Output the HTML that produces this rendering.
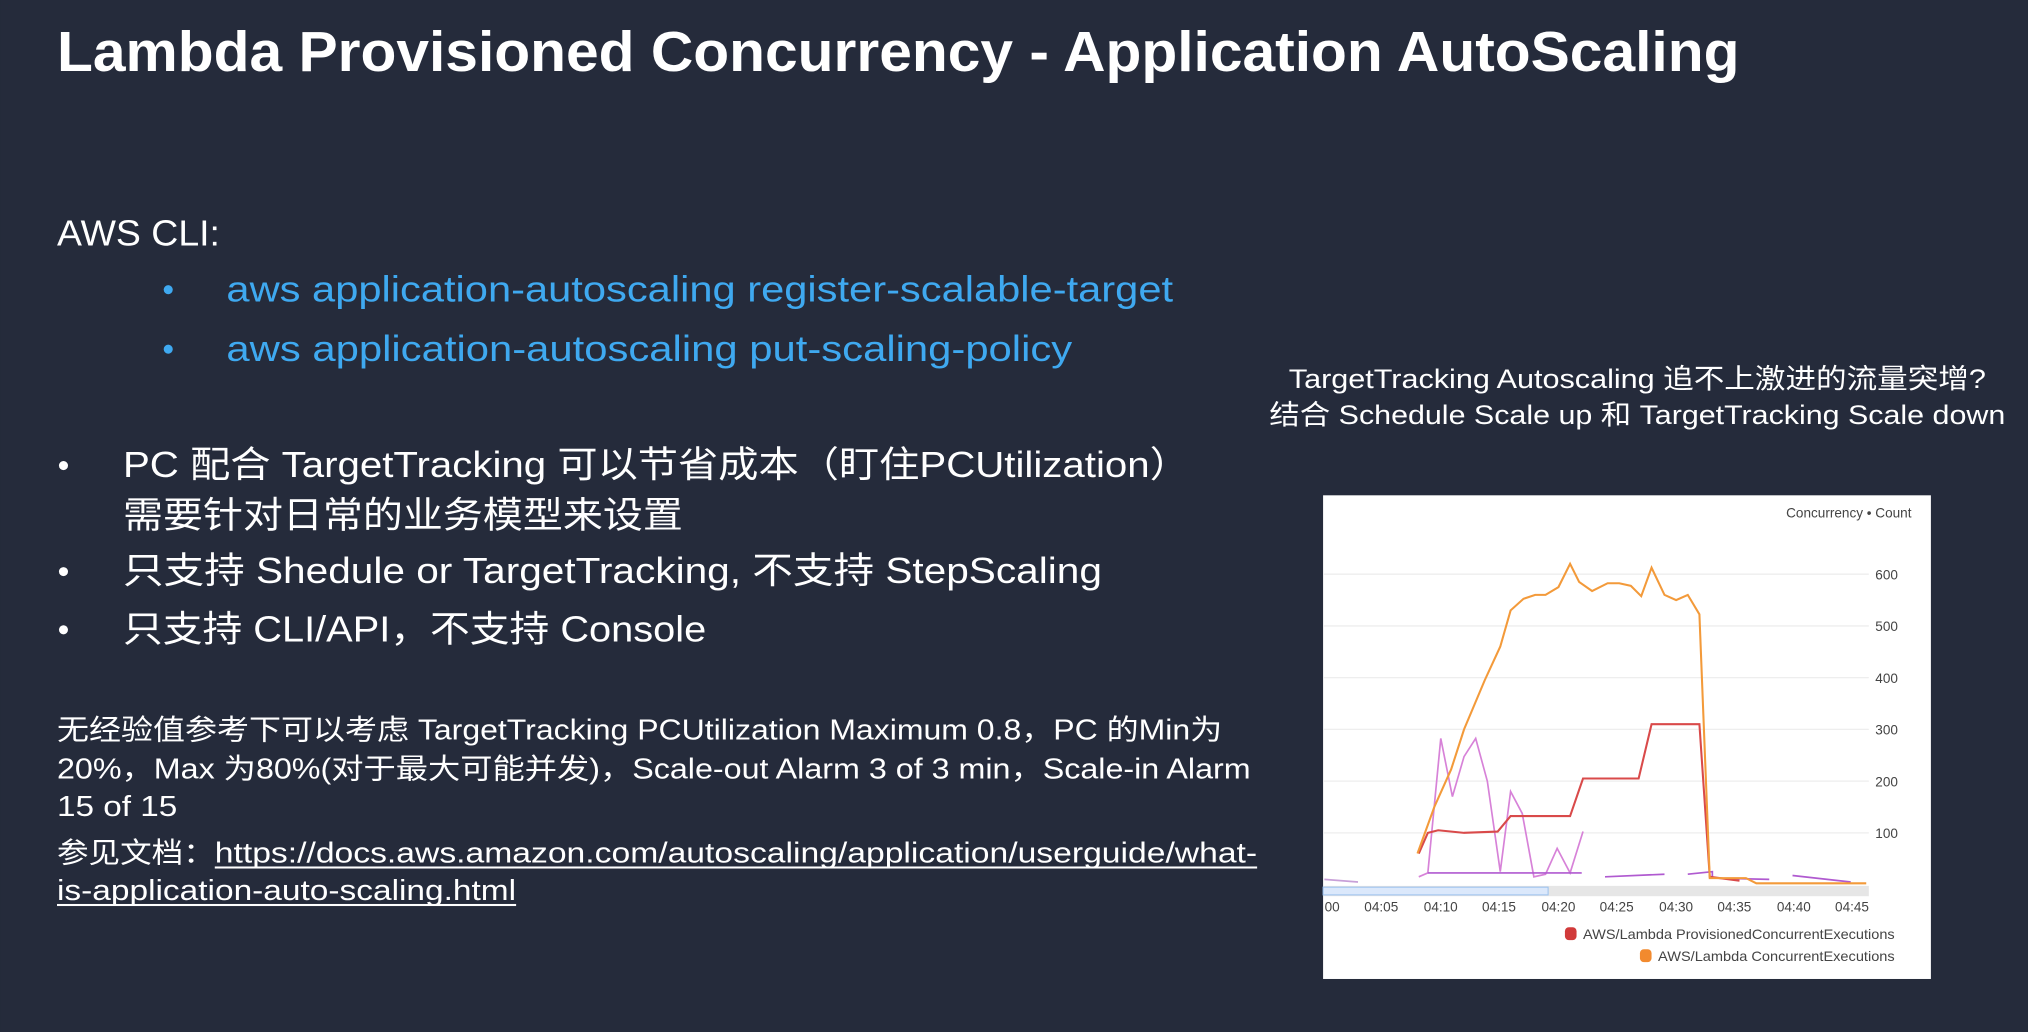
<!DOCTYPE html>
<html><head><meta charset="utf-8"><style>
html,body{margin:0;padding:0;background:#252b3b;}
svg{display:block}
text{font-family:"Liberation Sans","Noto Sans CJK SC",sans-serif;}
</style></head><body>
<svg width="2028" height="1032" viewBox="0 0 1568 798" xmlns="http://www.w3.org/2000/svg">
<rect width="1568" height="798" fill="#252b3b"/>
<text x="44" y="55" font-size="44" font-weight="bold" fill="#fff" textLength="1301" lengthAdjust="spacingAndGlyphs">Lambda Provisioned Concurrency - Application AutoScaling</text>
<text x="44" y="190" font-size="28" fill="#fff" textLength="126" lengthAdjust="spacingAndGlyphs">AWS CLI:</text>
<g fill="#3fa9f0" font-size="28">
<circle cx="130" cy="224" r="3.5"/><circle cx="130" cy="270" r="3.5"/>
<text x="175" y="233" textLength="732" lengthAdjust="spacingAndGlyphs">aws application-autoscaling register-scalable-target</text>
<text x="175" y="279" textLength="654" lengthAdjust="spacingAndGlyphs">aws application-autoscaling put-scaling-policy</text>
</g>
<g fill="#fff" font-size="28">
<circle cx="49" cy="360" r="3.5"/><circle cx="49" cy="442" r="3.5"/><circle cx="49" cy="487" r="3.5"/>
<text x="95" y="369" textLength="825" lengthAdjust="spacingAndGlyphs">PC 配合 TargetTracking 可以节省成本（盯住PCUtilization）</text>
<text x="95" y="408" textLength="433" lengthAdjust="spacingAndGlyphs">需要针对日常的业务模型来设置</text>
<text x="95" y="451" textLength="757" lengthAdjust="spacingAndGlyphs">只支持 Shedule or TargetTracking, 不支持 StepScaling</text>
<text x="95" y="496" textLength="451" lengthAdjust="spacingAndGlyphs">只支持 CLI/API，不支持 Console</text>
</g>
<g fill="#fff" font-size="22">
<text x="44" y="572" textLength="901" lengthAdjust="spacingAndGlyphs">无经验值参考下可以考虑 TargetTracking PCUtilization Maximum 0.8，PC 的Min为</text>
<text x="44" y="602" textLength="923" lengthAdjust="spacingAndGlyphs">20%，Max 为80%(对于最大可能并发)，Scale-out Alarm 3 of 3 min，Scale-in Alarm</text>
<text x="44" y="631" textLength="93" lengthAdjust="spacingAndGlyphs">15 of 15</text>
<text x="44" y="667" textLength="122" lengthAdjust="spacingAndGlyphs">参见文档：</text>
<text x="166" y="667" textLength="806" lengthAdjust="spacingAndGlyphs">https://docs.aws.amazon.com/autoscaling/application/userguide/what-</text>
<text x="44" y="696" textLength="355" lengthAdjust="spacingAndGlyphs">is-application-auto-scaling.html</text>
<rect x="166" y="670" width="806" height="1.6"/>
<rect x="44" y="699" width="355" height="1.6"/>
</g>
<g fill="#fff" font-size="21" text-anchor="middle">
<text x="1266" y="300" textLength="539" lengthAdjust="spacingAndGlyphs">TargetTracking Autoscaling 追不上激进的流量突增?</text>
<text x="1266" y="328" textLength="569" lengthAdjust="spacingAndGlyphs">结合 Schedule Scale up 和 TargetTracking Scale down</text>
</g>
<rect x="1023" y="383" width="470" height="374" fill="#fff"/>
<g stroke="#eeeeee" stroke-width="1">
<line x1="1023" y1="444" x2="1445" y2="444"/><line x1="1023" y1="484" x2="1445" y2="484"/>
<line x1="1023" y1="524" x2="1445" y2="524"/><line x1="1023" y1="564" x2="1445" y2="564"/>
<line x1="1023" y1="604" x2="1445" y2="604"/><line x1="1023" y1="644" x2="1445" y2="644"/>
</g>
<rect x="1023" y="685" width="422" height="8" fill="#e6e6e6"/>
<rect x="1023" y="686" width="174" height="6" fill="#dbe8fb" stroke="#9cc2ee" stroke-width="0.8"/>
<g fill="#444" font-size="10.5">
<text x="1478" y="400" text-anchor="end">Concurrency • Count</text>
<text x="1450" y="448">600</text><text x="1450" y="488">500</text><text x="1450" y="528">400</text>
<text x="1450" y="568">300</text><text x="1450" y="608">200</text><text x="1450" y="648">100</text>
<g text-anchor="middle">
<text x="1030" y="705">00</text><text x="1068" y="705">04:05</text><text x="1114" y="705">04:10</text>
<text x="1159" y="705">04:15</text><text x="1205" y="705">04:20</text><text x="1250" y="705">04:25</text>
<text x="1296" y="705">04:30</text><text x="1341" y="705">04:35</text><text x="1387" y="705">04:40</text>
<text x="1432" y="705">04:45</text></g>
<text x="1224" y="726" textLength="241" lengthAdjust="spacingAndGlyphs">AWS/Lambda ProvisionedConcurrentExecutions</text>
<text x="1282" y="743" textLength="183" lengthAdjust="spacingAndGlyphs">AWS/Lambda ConcurrentExecutions</text>
</g>
<rect x="1210" y="717" width="9" height="10" rx="3" fill="#d13a3a"/>
<rect x="1268" y="734" width="9" height="10" rx="3" fill="#f28a2e"/>
<g fill="none" stroke-width="1.3">
<polyline stroke="#d782d8" points="1097,678 1104,675 1114,571 1123,616 1132,585 1141,571 1150,604 1160,674 1168,612 1177,629 1186,678 1195,676 1204,656 1214,675 1224,643"/>
<polyline stroke="#b05ad0" points="1104,675 1223,675"/>
<polyline stroke="#b05ad0" points="1241,678 1287,676"/>
<polyline stroke="#b05ad0" points="1305,676 1324,674 1324,679 1368,680"/>
<polyline stroke="#b05ad0" points="1386,677 1431,682"/>
<polyline stroke="#c8a0d8" points="1024,680 1050,682"/>
<polyline stroke="#d94a4a" stroke-width="1.6" points="1097,660 1104,644 1112,642 1132,644 1158,643 1168,631 1214,631 1224,602 1267,602 1277,560 1314,560 1322,678 1345,681"/>
<polyline stroke="#f39a3a" stroke-width="1.6" points="1096,660 1109,624 1122,595 1132,564 1148,526 1160,500 1168,472 1178,463 1187,460 1195,460 1205,454 1214,436 1221,450 1231,457 1243,451 1252,451 1261,453 1269,461 1277,439 1287,460 1296,464 1305,460 1314,475 1322,679 1350,679 1358,683 1443,683"/>
</g>
</svg>
</body></html>
